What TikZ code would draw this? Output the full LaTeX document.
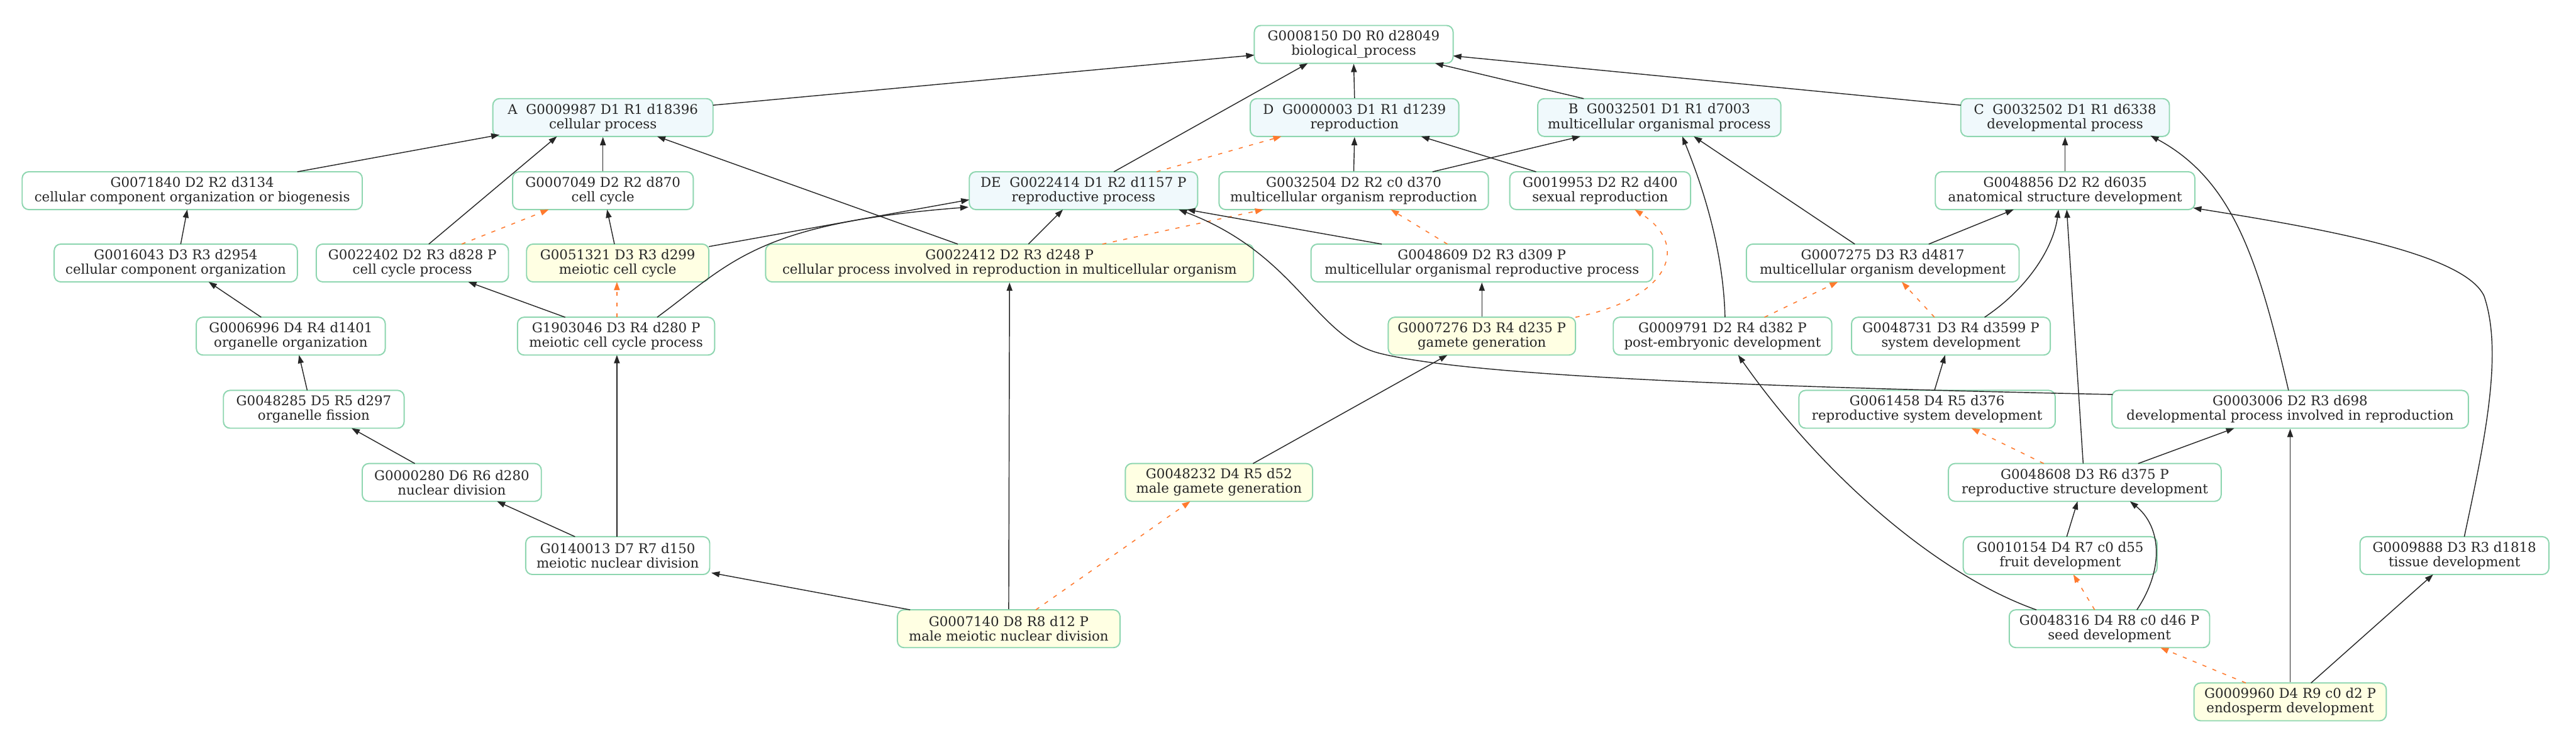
\documentclass[tikz,border=0pt]{standalone}
\usepackage{fontspec}
\setmainfont{DejaVu Serif}
\usetikzlibrary{arrows.meta,calc}
\definecolor{gborder}{HTML}{8ED6B0}
\definecolor{cyanfill}{HTML}{F0F9FC}
\definecolor{yelfill}{HTML}{FFFFE3}
\definecolor{orangec}{HTML}{FF7A2E}
\newcommand\gofont{\fontsize{16.3}{17.7}\selectfont}
\begin{document}
\begin{tikzpicture}[x=2pt,y=-2pt,
  gbox/.style={rectangle, rounded corners=8pt, draw=gborder, line width=1.5pt, fill=white,
    minimum height=46pt, inner sep=2pt, align=center, font=\gofont, text=black!85},
  cbox/.style={gbox, fill=cyanfill},
  ybox/.style={gbox, fill=yelfill},
  edg/.style={draw=black!85, line width=1.1pt, -{Triangle[length=10pt,width=7pt]}},
  oedg/.style={draw=orangec, line width=1.2pt, dash pattern=on 5pt off 8pt,
    -{Triangle[length=10pt,width=7pt,fill=orangec]}}]
\useasboundingbox (0,0) rectangle (1568,453);
\fill[white] (0,0) rectangle (1568,453);
% row 0
\node[gbox, minimum width=242pt] (bio) at (824,27) {G0008150 D0 R0 d28049\\biological\_process};
% row 1
\node[cbox, minimum width=268pt] (A) at (367,71.5) {A~~G0009987 D1 R1 d18396\\cellular process};
\node[cbox, minimum width=254pt] (D) at (824.5,71.5) {D~~G0000003 D1 R1 d1239\\reproduction};
\node[cbox, minimum width=296pt] (B) at (1010,71.5) {B~~G0032501 D1 R1 d7003\\multicellular organismal process};
\node[cbox, minimum width=254pt] (C) at (1257,71.5) {C~~G0032502 D1 R1 d6338\\developmental process};
% row 2
\node[gbox, minimum width=414pt] (n71840) at (117,116) {G0071840 D2 R2 d3134\\cellular component organization or biogenesis};
\node[gbox, minimum width=220pt] (n7049) at (367,116) {G0007049 D2 R2 d870\\cell cycle};
\node[cbox, minimum width=278pt] (DE) at (659.5,116) {DE~~G0022414 D1 R2 d1157 P\\reproductive process};
\node[gbox, minimum width=328pt] (n32504) at (824,116) {G0032504 D2 R2 c0 d370\\multicellular organism reproduction};
\node[gbox, minimum width=220pt] (n19953) at (974,116) {G0019953 D2 R2 d400\\sexual reproduction};
\node[gbox, minimum width=316pt] (n48856) at (1257,116) {G0048856 D2 R2 d6035\\anatomical structure development};
% row 3
\node[gbox, minimum width=296pt] (n16043) at (107,160) {G0016043 D3 R3 d2954\\cellular component organization};
\node[gbox, minimum width=234pt] (n22402) at (251,160) {G0022402 D2 R3 d828 P\\cell cycle process};
\node[ybox, minimum width=222pt] (n51321) at (376,160) {G0051321 D3 R3 d299\\meiotic cell cycle};
\node[ybox, minimum width=594pt] (n22412) at (614.5,160) {G0022412 D2 R3 d248 P\\cellular process involved in reproduction in multicellular organism};
\node[gbox, minimum width=416pt] (n48609) at (902,160) {G0048609 D2 R3 d309 P\\multicellular organismal reproductive process};
\node[gbox, minimum width=332pt] (n7275) at (1146,160) {G0007275 D3 R3 d4817\\multicellular organism development};
% row 4
\node[gbox, minimum width=230pt] (n6996) at (177,204.5) {G0006996 D4 R4 d1401\\organelle organization};
\node[gbox, minimum width=240pt] (n1903046) at (375,204.5) {G1903046 D3 R4 d280 P\\meiotic cell cycle process};
\node[ybox, minimum width=228pt] (n7276) at (902,204.5) {G0007276 D3 R4 d235 P\\gamete generation};
\node[gbox, minimum width=266pt] (n9791) at (1048.5,204.5) {G0009791 D2 R4 d382 P\\post-embryonic development};
\node[gbox, minimum width=242pt] (n48731) at (1187.5,204.5) {G0048731 D3 R4 d3599 P\\system development};
% row 5
\node[gbox, minimum width=220pt] (n48285) at (191,249) {G0048285 D5 R5 d297\\organelle fission};
\node[gbox, minimum width=312pt] (n61458) at (1173,249) {G0061458 D4 R5 d376\\reproductive system development};
\node[gbox, minimum width=434pt] (n3006) at (1394,249) {G0003006 D2 R3 d698\\developmental process involved in reproduction};
% row 6
\node[gbox, minimum width=218pt] (n280) at (275,293.5) {G0000280 D6 R6 d280\\nuclear division};
\node[ybox, minimum width=228pt] (n48232) at (742,293.5) {G0048232 D4 R5 d52\\male gamete generation};
\node[gbox, minimum width=332pt] (n48608) at (1269,293.5) {G0048608 D3 R6 d375 P\\reproductive structure development};
% row 7
\node[gbox, minimum width=224pt] (n140013) at (376,338) {G0140013 D7 R7 d150\\meiotic nuclear division};
\node[gbox, minimum width=236pt] (n10154) at (1254,338) {G0010154 D4 R7 c0 d55\\fruit development};
\node[gbox, minimum width=230pt] (n9888) at (1494,338) {G0009888 D3 R3 d1818\\tissue development};
% row 8
\node[ybox, minimum width=271pt] (n7140) at (614,382.5) {G0007140 D8 R8 d12 P\\male meiotic nuclear division};
\node[gbox, minimum width=244pt] (n48316) at (1284,382.5) {G0048316 D4 R8 c0 d46 P\\seed development};
% row 9
\node[ybox, minimum width=234pt] (n9960) at (1394,427) {G0009960 D4 R9 c0 d2 P\\endosperm development};

% edges
\draw[edg] ($(A)+(67,-7.5)$) -- ($(bio)+(-60.5,6.5)$);
\draw[edg] ($(DE)+(18.5,-11.5)$) -- ($(bio)+(-28,11.5)$);
\draw[edg] (D.north) -- (bio.south);
\draw[edg] ($(B)+(-46,-11.5)$) -- ($(bio)+(49.5,11.5)$);
\draw[edg] ($(C)+(-63.5,-7.5)$) -- ($(bio)+(60.5,7)$);
\draw[edg] ($(n71840)+(64,-11.5)$) -- ($(A)+(-63,10.5)$);
\draw[edg] ($(n22402)+(10,-11.5)$) -- ($(A)+(-28,11.5)$);
\draw[edg] (n7049.north) -- (A.south);
\draw[edg] ($(n22412)+(-31.5,-11.5)$) -- ($(A)+(33,11.5)$);
\draw[edg] ($(n16043)+(3,-11.5)$) -- ($(n71840)+(-3,11.5)$);
\draw[edg] ($(n51321)+(-2,-11.5)$) -- ($(n7049)+(2.5,11.5)$);
\draw[oedg] ($(n22402)+(30,-11.5)$) -- ($(n7049)+(-33,11.5)$);
\draw[edg] ($(n51321)+(55.5,-10)$) -- ($(DE)+(-69.5,5.5)$);
\draw[edg] ($(n1903046)+(25,-11.5)$) .. controls (445,160) and (460,136) .. ($(DE)+(-70,10)$);
\draw[edg] ($(n1903046)+(-31,-11.5)$) -- ($(n22402)+(34,11.5)$);
\draw[oedg] ($(n1903046)+(0.5,-11.5)$) -- ($(n51321)+(-0.5,11.5)$);
\draw[edg] ($(n6996)+(-18,-11.5)$) -- ($(n16043)+(20,11.5)$);
\draw[edg] ($(n48285)+(-4,-11.5)$) -- ($(n6996)+(5,11.5)$);
\draw[edg] ($(n280)+(-22.5,-11.5)$) -- ($(n48285)+(23,11.5)$);
\draw[edg] ($(n140013)+(-26,-11.5)$) -- ($(n280)+(27.5,11.5)$);
\draw[edg] ($(n140013)+(-0.5,-11.5)$) -- ($(n1903046)+(0.5,11.5)$);
\draw[edg] ($(n7140)+(-60,-11.5)$) -- ($(n140013)+(57,10.5)$);
\draw[edg] (n7140.north) -- (n22412.south);
\draw[oedg] ($(n7140)+(16.5,-11.5)$) -- ($(n48232)+(-17.5,11.5)$);
\draw[edg] ($(n48232)+(20.7,-11.5)$) -- ($(n7276)+(-21,11.5)$);
\draw[edg] ($(n22412)+(11.5,-11.5)$) -- ($(DE)+(-12.5,11.5)$);
\draw[oedg] ($(n22412)+(56.5,-11.5)$) -- ($(n32504)+(-55,11.5)$);
\draw[oedg] ($(DE)+(44.5,-11.5)$) -- ($(D)+(-44.5,11.5)$);
\draw[edg] (n32504.north) -- (D.south);
\draw[edg] ($(n32504)+(48,-11.5)$) -- ($(B)+(-48,11.5)$);
\draw[edg] ($(n19953)+(-39,-11.5)$) -- ($(D)+(40.5,11.5)$);
\draw[edg] ($(n48609)+(-61,-11.5)$) -- ($(DE)+(63,11.5)$);
\draw[edg] ($(n3006)+(-108,-9)$) .. controls (1100,236) and (900,230) .. (840,215) .. controls (800,205) and (790,155) .. ($(DE)+(58,11.5)$);
\draw[oedg] ($(n48609)+(-21,-11.5)$) -- ($(n32504)+(22.6,11.5)$);
\draw[edg] (n7276.north) -- (n48609.south);
\draw[oedg] ($(n7276)+(57,-11.5)$) .. controls (1015,182) and (1030,150) .. ($(n19953)+(21,11.5)$);
\draw[edg] ($(n9791)+(1.5,-11.5)$) .. controls (1049,150) and (1035,110) .. ($(B)+(14,11.5)$);
\draw[edg] ($(n7275)+(-17,-11.5)$) -- ($(B)+(21,11.5)$);
\draw[edg] ($(n7275)+(28,-11.5)$) -- ($(n48856)+(-31.3,11.5)$);
\draw[oedg] ($(n9791)+(25.5,-11.5)$) -- ($(n7275)+(-27.3,11.5)$);
\draw[oedg] ($(n48731)+(-10,-11.5)$) -- ($(n7275)+(11.6,11.5)$);
\draw[edg] ($(n48731)+(20.5,-11.5)$) .. controls (1235,175) and (1250,150) .. ($(n48856)+(-4,11.5)$);
\draw[edg] ($(n48608)+(-1,-11.5)$) -- ($(n48856)+(1,11.5)$);
\draw[edg] ($(n3006)+(-1,-11.5)$) .. controls (1375,160) and (1360,110) .. ($(C)+(52,11)$);
\draw[edg] (n48856.north) -- (C.south);
\draw[edg] ($(n9888)+(6,-11.5)$) .. controls (1512,270) and (1524,215) .. (1512,180) .. controls (1500,155) and (1420,140) .. ($(n48856)+(78,10.5)$);
\draw[edg] ($(n61458)+(4.5,-11.5)$) -- ($(n48731)+(-3.5,11.5)$);
\draw[oedg] ($(n48608)+(-25,-11.5)$) -- ($(n61458)+(27,11.5)$);
\draw[edg] ($(n48608)+(32.5,-11.5)$) -- ($(n3006)+(-34,11.5)$);
\draw[edg] ($(n48316)+(-44.5,-11.5)$) .. controls (1180,350) and (1110,290) .. ($(n9791)+(9.5,11.5)$);
\draw[edg] ($(n10154)+(4,-11.5)$) -- ($(n48608)+(-4.4,11.5)$);
\draw[edg] ($(n48316)+(16.7,-11.5)$) .. controls (1318,345) and (1315,320) .. ($(n48608)+(27.5,11.5)$);
\draw[oedg] ($(n48316)+(-9,-11.5)$) -- ($(n10154)+(8,11.5)$);
\draw[oedg] ($(n9960)+(-27,-11.5)$) -- ($(n48316)+(31,11.5)$);
\draw[edg] (n9960.north) -- (n3006.south);
\draw[edg] ($(n9960)+(12.7,-11.5)$) -- ($(n9888)+(-13,11.5)$);
\end{tikzpicture}
\end{document}
